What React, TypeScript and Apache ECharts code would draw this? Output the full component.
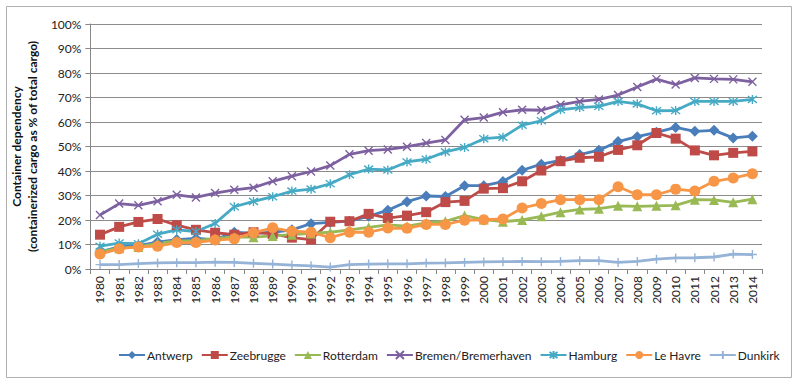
import React, { useEffect, useRef } from "react";
import * as echarts from "echarts";

const years = [
  "1980", "1981", "1982", "1983", "1984", "1985", "1986", "1987", "1988", "1989",
  "1990", "1991", "1992", "1993", "1994", "1995", "1996", "1997", "1998", "1999",
  "2000", "2001", "2002", "2003", "2004", "2005", "2006", "2007", "2008", "2009",
  "2010", "2011", "2012", "2013", "2014",
];

const antwerp = [
  7, 9, 9.5, 11, 12, 12.5, 12, 15, 14.5, 15,
  16, 18.5, 19, 19.5, 21.5, 24, 27.5, 29.8, 29.6, 34,
  34, 35.7, 40.3, 42.8, 44.3, 46.7, 48.5, 52, 54, 55.8,
  57.8, 56.2, 56.6, 53.5, 54.2,
];
const zeebrugge = [
  14, 17.2, 19.2, 20.4, 17.9, 16, 14.8, 14, 15, 14.3,
  12.8, 12, 19.3, 19.5, 22.5, 20.8, 21.8, 23.2, 27.3, 27.8,
  32.8, 33, 35.8, 40.2, 44, 45.4, 45.8, 48.6, 50.5, 55.5,
  53.2, 48.4, 46.4, 47.4, 48,
];
const rotterdam = [
  7, 8.5, 9, 10.5, 11.5, 11.5, 12.5, 13, 13, 13.5,
  14, 14.5, 15, 16, 17, 18, 17.5, 18.8, 19.5, 21.8,
  20.2, 19.3, 20, 21.5, 23.2, 24.3, 24.6, 25.8, 25.6, 25.8,
  26, 28.3, 28.2, 27.2, 28.5,
];
const bremen = [
  22, 26.7, 26, 27.7, 30.3, 29.2, 31, 32.3, 33.2, 35.8,
  37.9, 39.8, 42.2, 46.8, 48.3, 48.8, 49.9, 51.4, 52.7, 60.9,
  61.8, 64, 65, 64.8, 67, 68.4, 69.2, 71, 74.3, 77.5,
  75.3, 78, 77.6, 77.4, 76.4,
];
const hamburg = [
  9.3, 10.6, 10.3, 14.2, 16, 15.3, 18.6, 25.4, 27.6, 29.5,
  31.8, 32.6, 34.8, 38.5, 40.8, 40.4, 43.7, 44.8, 47.8, 49.6,
  53.2, 53.8, 58.7, 60.5, 65, 65.9, 66.4, 68.4, 67.4, 64.6,
  64.7, 68.4, 68.4, 68.4, 69.2,
];
const leHavre = [
  6.1, 8.3, 9, 9.3, 10.8, 10.8, 11.8, 12.3, 14.8, 16.8,
  15.4, 15, 12.8, 15, 15, 16.7, 16.6, 18.2, 18.2, 19.9,
  20.1, 20.4, 24.9, 26.7, 28.3, 28.3, 28.3, 33.6, 30.3, 30.3,
  32.6, 31.8, 35.8, 37.1, 38.9,
];
const dunkirk = [
  1.8, 1.8, 2.2, 2.5, 2.6, 2.6, 2.8, 2.7, 2.3, 2,
  1.6, 1.3, 0.8, 1.8, 2, 2.1, 2.1, 2.4, 2.5, 2.7,
  2.9, 3, 3.1, 3, 3.1, 3.4, 3.4, 2.7, 3.1, 4,
  4.5, 4.6, 4.9, 6.1, 5.9,
];

const X_PATH = "path://M0,0L10,10M10,0L0,10";
const STAR_PATH = "path://M0,0L10,10M10,0L0,10M5,-1.5L5,11.5";
const PLUS_PATH = "path://M5,0L5,10M0,5L10,5";

const FONT = "Lato, 'Open Sans', sans-serif";

export default function App() {
  const ref = useRef<HTMLDivElement>(null);

  useEffect(() => {
    if (!ref.current) return;
    const chart = echarts.init(ref.current, undefined, { renderer: "svg" });

    const mk = (
      name: string,
      data: number[],
      color: string,
      symbol: string,
      symbolSize: number,
      stroke = false
    ) => ({
      name,
      type: "line",
      data,
      symbol,
      symbolSize,
      showSymbol: true,
      lineStyle: { color, width: 2.8 },
      itemStyle: stroke
        ? { color: color, borderColor: color, borderWidth: 1.4 }
        : { color, borderWidth: 0 },
      emphasis: { disabled: true },
    });

    chart.setOption({
      animation: false,
      textStyle: { fontFamily: FONT },
      graphic: [
        {
          type: "rect",
          shape: { x: 6.5, y: 6.5, width: 785, height: 371 },
          style: { fill: "none", stroke: "#b0b0b0", lineWidth: 1 },
          silent: true,
        },
      ],
      grid: { left: 81, right: 38, top: 24, bottom: 119, containLabel: false },
      legend: {
        left: 113,
        top: 344,
        itemWidth: 26,
        itemHeight: 10,
        itemGap: 8,
        textStyle: { fontSize: 12, color: "#222", fontFamily: FONT, padding: [0, 0, 0, -3] },
        data: [
          "Antwerp",
          "Zeebrugge",
          "Rotterdam",
          "Bremen/Bremerhaven",
          "Hamburg",
          "Le Havre",
          "Dunkirk",
        ],
      },
      xAxis: {
        type: "category",
        data: years,
        boundaryGap: true,
        axisLine: { lineStyle: { color: "#888", width: 1 } },
        axisTick: { show: true, alignWithLabel: false, length: 5, lineStyle: { color: "#888" } },
        axisLabel: {
          rotate: 90,
          interval: 0,
          fontSize: 12,
          color: "#222",
          margin: 7,
          fontFamily: FONT,
        },
      },
      yAxis: {
        type: "value",
        min: 0,
        max: 100,
        interval: 10,
        name: "Container dependency\n(containerized cargo as % of total cargo)",
        nameLocation: "middle",
        nameGap: 47,
        nameRotate: 90,
        nameTextStyle: {
          fontSize: 12,
          fontWeight: "bold",
          color: "#111",
          lineHeight: 16,
          fontFamily: FONT,
        },
        axisLine: { show: true, lineStyle: { color: "#888", width: 1 } },
        axisTick: { show: true, length: 5, lineStyle: { color: "#888" } },
        axisLabel: {
          formatter: "{value}%",
          fontSize: 12,
          color: "#222",
          margin: 9,
          fontFamily: FONT,
        },
        splitLine: { show: true, lineStyle: { color: "#8c8c8c", width: 1 } },
      },
      series: [
        mk("Antwerp", antwerp, "#4A7EBB", "diamond", 11),
        mk("Zeebrugge", zeebrugge, "#BE4B48", "rect", 10),
        mk("Rotterdam", rotterdam, "#98B954", "triangle", 10),
        mk("Bremen/Bremerhaven", bremen, "#7D60A0", X_PATH, 8, true),
        mk("Hamburg", hamburg, "#46AAC5", STAR_PATH, 9, true),
        mk("Le Havre", leHavre, "#F79646", "circle", 11),
        mk("Dunkirk", dunkirk, "#95B3D7", PLUS_PATH, 9, true),
      ],
    });

    return () => chart.dispose();
  }, []);

  return (
    <div
      ref={ref}
      style={{ position: "fixed", left: 0, top: 0, width: 800, height: 388, background: "#fff" }}
    />
  );
}
